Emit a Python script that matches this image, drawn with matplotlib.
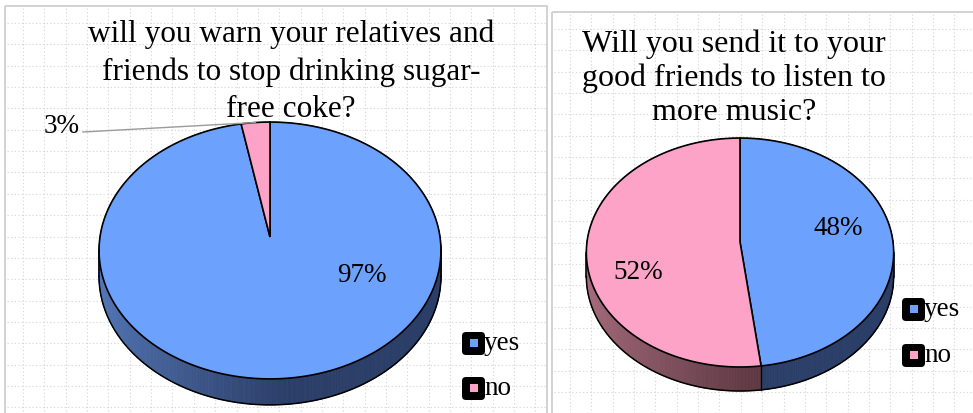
import numpy as np
import matplotlib.pyplot as plt
from matplotlib.patches import Polygon, Rectangle, FancyBboxPatch
from matplotlib.colors import to_rgb

plt.rcParams['font.family'] = ['Liberation Serif', 'DejaVu Serif']

categories = ['yes', 'no']
warn_values = [97, 3]
send_values = [48, 52]
warn_title = 'will you warn your relatives and\nfriends to stop drinking sugar-\nfree coke?'
send_title = 'Will you send it to your\ngood friends to listen to\nmore music?'

top_colors = ['#6ca2fd', '#fda3c8']
side_light = ['#5477b6', '#a66c7d']
side_dark = ['#2b3e68', '#5e3843']

W, H = 973, 414
fig = plt.figure(figsize=(W / 100, H / 100), dpi=100)
ax = fig.add_axes([0, 0, 1, 1])
ax.set_xlim(0, W)
ax.set_ylim(H, 0)
ax.axis('off')


def panel(x0, y0, x1, y1, gx, gy, step=21.35):
    # dotted background grid and thin frame
    for x in np.arange(gx, x1, step):
        ax.plot([x, x], [y0 + 2, y1], color='#dadada', lw=0.8, ls=(0, (1.2, 2)), zorder=0)
    for y in np.arange(gy, y1, step):
        ax.plot([x0 + 2, x1], [y, y], color='#dadada', lw=0.8, ls=(0, (1.2, 2)), zorder=0)
    ax.add_patch(Rectangle((x0, y0), x1 - x0, y1 - y0, fill=False, ec='#d2d2d2', lw=1.4, zorder=1))


def project(theta, r, geo):
    # tilted disc seen in perspective: theta runs clockwise from 12 o'clock
    cx, cy, A, B, p = geo
    u = r * np.sin(theta)
    v = r * np.cos(theta)
    w = 1 + p * v
    return cx + A * u / w, cy - B * v / w


def pie3d(values, geo, depth):
    frac = np.array(values) / sum(values)
    bounds = np.concatenate([[0], np.cumsum(frac)]) * 2 * np.pi
    cx, A, p = geo[0], geo[2], geo[4]

    # side wall in thin strips, shaded from left to right
    for i in range(len(values)):
        th = np.linspace(bounds[i], bounds[i + 1], max(int(frac[i] * 720), 2) + 1)
        xs, ys = project(th, 1, geo)
        for k in range(len(th) - 1):
            t = np.clip((xs[k] - (cx - A)) / (1.1 * A), 0, 1) ** 0.8
            c = (1 - t) * np.array(to_rgb(side_light[i])) + t * np.array(to_rgb(side_dark[i]))
            quad = [(xs[k], ys[k]), (xs[k + 1], ys[k + 1]),
                    (xs[k + 1], ys[k + 1] + depth), (xs[k], ys[k] + depth)]
            ax.add_patch(Polygon(quad, closed=True, fc=c, ec=c, lw=0.6, zorder=2))

    # outline of the visible wall
    a0 = np.arccos(-p)
    front = np.linspace(a0, 2 * np.pi - a0, 300)
    fx, fy = project(front, 1, geo)
    ax.plot(fx, fy + depth, color='black', lw=1.1, zorder=4)
    for a in (a0, 2 * np.pi - a0):
        ex, ey = project(a, 1, geo)
        ax.plot([ex, ex], [ey, ey + depth], color='black', lw=1.1, zorder=4)
    for b in bounds[1:-1]:
        if a0 < b < 2 * np.pi - a0:
            bx, by = project(b, 1, geo)
            ax.plot([bx, bx], [by, by + depth], color='black', lw=1.0, zorder=4)

    # top face
    for i in range(len(values)):
        th = np.linspace(bounds[i], bounds[i + 1], max(int(frac[i] * 720), 2) + 1)
        xs, ys = project(th, 1, geo)
        pts = [(geo[0], geo[1])] + list(zip(xs, ys))
        ax.add_patch(Polygon(pts, closed=True, fc=top_colors[i], ec='black',
                             lw=1.2, joinstyle='miter', zorder=3))
    return bounds


def legend(x, ys):
    for y, lab, col in zip(ys, categories, top_colors):
        ax.add_patch(FancyBboxPatch((x + 2, y - 9), 19, 19, boxstyle='round,pad=2,rounding_size=4',
                                    fc='black', ec='black', lw=0, zorder=5))
        ax.add_patch(Rectangle((x + 8, y - 4), 8, 8, fc=col, ec='none', zorder=6))
        ax.text(x + 22, y, lab, fontsize=19.5, ha='left', va='center', zorder=7)


panel(5, 7, 547, 430, 23, 24)
panel(552, 13, 990, 430, 570, 30)

# left chart
geo_l = (270, 238, 170, 127, 0.105)
b_l = pie3d(warn_values, geo_l, 26)
ax.text(291, 72, warn_title, fontsize=22.5, ha='center', va='center', linespacing=1.36, zorder=7)
ax.text(362, 276, f'{warn_values[0]}%', fontsize=19.5, ha='center', va='center', zorder=7)
mid = (b_l[1] + b_l[2]) / 2
lx, ly = project(mid, 1, geo_l)
ax.plot([83, lx], [133, ly], color='#9a9a9a', lw=1.0, zorder=4)
ax.text(62, 127, f'{warn_values[1]}%', fontsize=19.5, ha='center', va='center', zorder=7)
legend(462, [344, 389])

# right chart
geo_r = (740, 243, 153, 113.5, 0.092)
pie3d(send_values, geo_r, 24)
ax.text(734, 78, send_title, fontsize=23, ha='center', va='center', linespacing=1.22, zorder=7)
ax.text(838, 229, f'{send_values[0]}%', fontsize=19.5, ha='center', va='center', zorder=7)
ax.text(638, 273, f'{send_values[1]}%', fontsize=19.5, ha='center', va='center', zorder=7)
legend(902, [310, 356])

fig.savefig('out.png', dpi=100)
